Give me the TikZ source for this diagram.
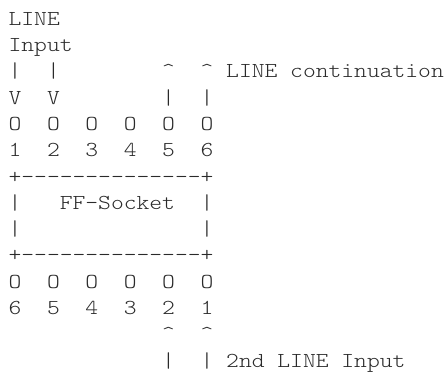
\documentclass[tikz,border=0pt]{standalone}
\usepackage{fontspec}
\newfontfamily\asciifont{lmmonolt10-regular.otf}[FakeStretch=1.145]
\definecolor{ink}{HTML}{2A2A2A}
\newcommand\tok[4]{\node[txt] (#1) at ({8.6+#2*12.8},{-(25.2+#3*26.3)}) {#4};}
\begin{document}
\begin{tikzpicture}[x=1pt,y=1pt,
  txt/.style={anchor=base west, inner sep=0pt, outer sep=0pt, text=ink,
    font=\asciifont\fontsize{21.3pt}{26.3pt}\selectfont}]
\useasboundingbox (0,0) rectangle (445,-372);
% row 0-1
\tok{l0}{0}{0}{LINE}
\tok{l1}{0}{1}{Input}
% row 2
\tok{a0}{0}{2}{|}
\tok{a1}{3}{2}{|}
\tok{a2}{12}{2}{\textasciicircum}
\tok{a3}{15}{2}{\textasciicircum}
\tok{a4}{17}{2}{LINE continuation}
% row 3
\tok{b0}{0}{3}{V}
\tok{b1}{3}{3}{V}
\tok{b2}{12}{3}{|}
\tok{b3}{15}{3}{|}
% row 4 pins
\tok{p1}{0}{4}{O}
\tok{p2}{3}{4}{O}
\tok{p3}{6}{4}{O}
\tok{p4}{9}{4}{O}
\tok{p5}{12}{4}{O}
\tok{p6}{15}{4}{O}
% row 5 numbers
\tok{n1}{0}{5}{1}
\tok{n2}{3}{5}{2}
\tok{n3}{6}{5}{3}
\tok{n4}{9}{5}{4}
\tok{n5}{12}{5}{5}
\tok{n6}{15}{5}{6}
% box
\tok{top}{0}{6}{+--------------+}
\tok{s1}{0}{7}{|}
\tok{lbl}{4}{7}{FF-Socket}
\tok{s2}{15}{7}{|}
\tok{s3}{0}{8}{|}
\tok{s4}{15}{8}{|}
\tok{bot}{0}{9}{+--------------+}
% row 10 pins
\tok{q6}{0}{10}{O}
\tok{q5}{3}{10}{O}
\tok{q4}{6}{10}{O}
\tok{q3}{9}{10}{O}
\tok{q2}{12}{10}{O}
\tok{q1}{15}{10}{O}
% row 11 numbers
\tok{m6}{0}{11}{6}
\tok{m5}{3}{11}{5}
\tok{m4}{6}{11}{4}
\tok{m3}{9}{11}{3}
\tok{m2}{12}{11}{2}
\tok{m1}{15}{11}{1}
% rows 12-13
\tok{c0}{12}{12}{\textasciicircum}
\tok{c1}{15}{12}{\textasciicircum}
\tok{d0}{12}{13}{|}
\tok{d1}{15}{13}{|}
\tok{d2}{17}{13}{2nd LINE Input}
\end{tikzpicture}
\end{document}
